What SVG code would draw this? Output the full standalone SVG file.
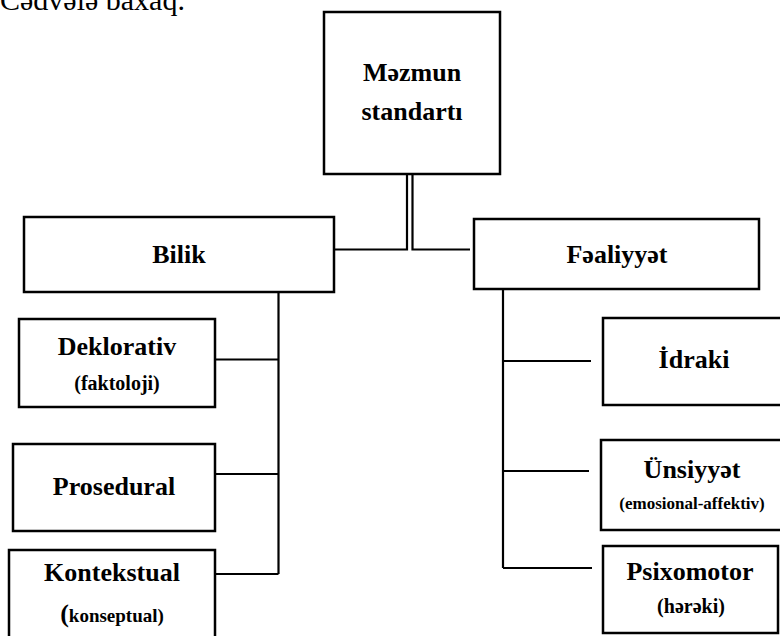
<svg xmlns="http://www.w3.org/2000/svg" width="780" height="636" viewBox="0 0 780 636">
<style>
.box{fill:#fff;stroke:#000;stroke-width:2.5}
.ln{fill:none;stroke:#000;stroke-width:2.2}
.t{font-family:"Liberation Serif","Times New Roman",serif;font-weight:bold;text-anchor:middle;fill:#000}
.big{font-size:26px}
.cap{font-family:"Liberation Serif","Times New Roman",serif;font-size:30px;fill:#000}
</style>
<rect width="780" height="636" fill="#fff"/>
<text class="cap" x="0" y="10">Cədvələ baxaq.</text>
<g id="connectors">
<path class="ln" d="M334,249.5 H407 V174"/>
<path class="ln" d="M412.5,174 V249.5 H470"/>
<path class="ln" d="M278.5,292 V574 M215,359.5 H278.5 M215,474 H278.5 M215,574 H278.5"/>
<path class="ln" d="M503,289 V568 M503,361 H591 M503,471 H589 M503,568 H592"/>
</g>
<g id="mezmun">
<rect class="box" x="324" y="12" width="176" height="162"/>
<text class="t big" x="412" y="81">Məzmun</text>
<text class="t big" x="412" y="120">standartı</text>
</g>
<g id="bilik">
<rect class="box" x="24" y="217" width="310" height="75"/>
<text class="t big" x="179" y="263">Bilik</text>
</g>
<g id="fealiyyet">
<rect class="box" x="474" y="219" width="285" height="70"/>
<text class="t big" x="617" y="263">Fəaliyyət</text>
</g>
<g id="deklorativ">
<rect class="box" x="19" y="319" width="196" height="88"/>
<text class="t big" x="117" y="355">Deklorativ</text>
<text class="t" x="117" y="390" font-size="20">(faktoloji)</text>
</g>
<g id="prosedural">
<rect class="box" x="13" y="444" width="202" height="87"/>
<text class="t big" x="114" y="495">Prosedural</text>
</g>
<g id="kontekstual">
<rect class="box" x="9" y="550" width="206" height="100"/>
<text class="t big" x="112" y="581">Kontekstual</text>
<text class="t" x="112" y="622"><tspan font-size="26">(</tspan><tspan font-size="19">konseptual)</tspan></text>
</g>
<g id="idraki">
<rect class="box" x="603" y="318" width="190" height="87"/>
<text class="t big" x="694" y="368">İdraki</text>
</g>
<g id="unsiyyet">
<rect class="box" x="601" y="440" width="190" height="90"/>
<text class="t big" x="692" y="478">Ünsiyyət</text>
<text class="t" x="692" y="509" font-size="17">(emosional-affektiv)</text>
</g>
<g id="psixomotor">
<rect class="box" x="603" y="546" width="175" height="87"/>
<text class="t big" x="690" y="580">Psixomotor</text>
<text class="t" x="691" y="613" font-size="20">(hərəki)</text>
</g>
</svg>
